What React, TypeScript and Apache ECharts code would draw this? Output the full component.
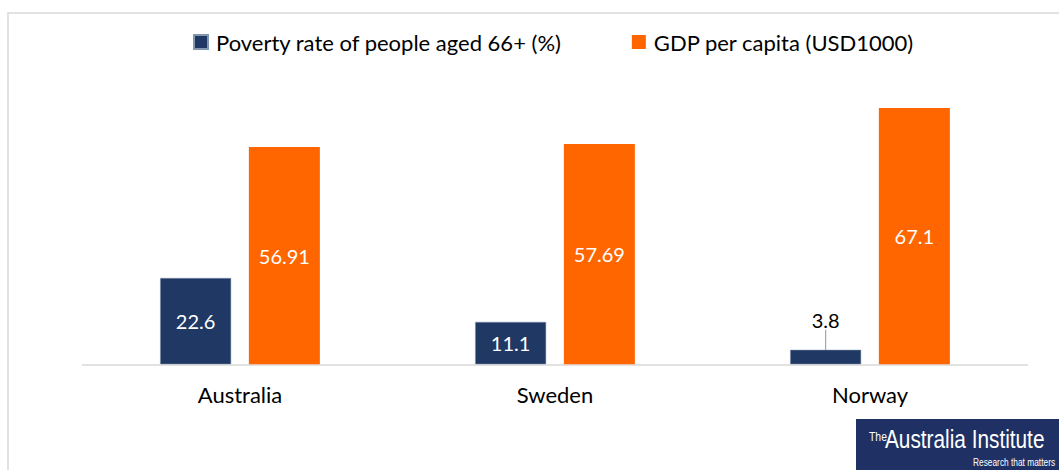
import React, { useEffect, useRef } from "react";
import * as echarts from "echarts";

const categories = ["Australia", "Sweden", "Norway"];
const povertyRate = [22.6, 11.1, 3.8];
const gdpPerCapita = [56.91, 57.69, 67.1];
const seriesNames = ["Poverty rate of people aged 66+ (%)", "GDP per capita (USD1000)"];

const FONT = "Lato, 'Open Sans', sans-serif";
const LOGO_FONT = "'Liberation Sans', Arial, sans-serif";

export default function App() {
  const ref = useRef<HTMLDivElement>(null);
  useEffect(() => {
    if (!ref.current) return;
    const chart = echarts.init(ref.current, undefined, { renderer: "svg" });
    chart.setOption({
      animation: false,
      backgroundColor: "#ffffff",
      textStyle: { fontFamily: FONT },
      legend: {
        top: 26,
        left: 188,
        itemWidth: 14,
        itemHeight: 14,
        itemGap: 70,
        icon: "rect",
        textStyle: { fontSize: 22, color: "#000", fontFamily: FONT, padding: [0, 0, 0, 3] },
        data: seriesNames,
      },
      grid: { left: 82.5, right: 31.5, top: 97, bottom: 105.7 },
      xAxis: {
        type: "category",
        data: categories,
        axisLine: { lineStyle: { color: "#d9d9d9", width: 1.5 } },
        axisTick: { show: false },
        axisLabel: { fontSize: 22, color: "#000", margin: 19, fontFamily: FONT },
      },
      yAxis: {
        type: "value",
        min: 0,
        max: 70,
        show: false,
        splitLine: { show: false },
      },
      series: [
        {
          name: seriesNames[0],
          type: "bar",
          data: povertyRate.map((v, i) =>
            i === 2
              ? { value: v, label: { position: "top", distance: 5, color: "#000" } }
              : { value: v }
          ),
          barWidth: 71,
          barGap: "25%",
          itemStyle: { color: "#203864", borderColor: "#8497b0", borderWidth: 0.5 },
          label: {
            show: true,
            position: "inside",
            color: "#fff",
            fontSize: 20,
            fontFamily: FONT,
          },
          labelLayout: (p: any) => (p.dataIndex === 2 ? { dy: -15 } : {}),
          labelLine: { show: true, lineStyle: { color: "#a6a6a6", width: 1.2 } },
        },
        {
          name: seriesNames[1],
          type: "bar",
          data: gdpPerCapita,
          barWidth: 71,
          itemStyle: { color: "#ff6600" },
          label: {
            show: true,
            position: "inside",
            color: "#fff",
            fontSize: 20,
            fontFamily: FONT,
          },
        },
      ],
      graphic: [
        {
          type: "rect",
          shape: { x: 8, y: 13, width: 1200, height: 600 },
          style: { fill: "none", stroke: "#d9d9d9", lineWidth: 1.5 },
          silent: true,
          z: -1,
        },
        {
          type: "rect",
          shape: { x: 856, y: 419, width: 210, height: 60 },
          style: { fill: "#1f3164" },
          z: 10,
        },
        {
          type: "text",
          x: 869,
          y: 430,
          scaleX: 0.8,
          style: { text: "The", fill: "#fff", fontSize: 13, fontFamily: LOGO_FONT },
          z: 11,
        },
        {
          type: "text",
          x: 885,
          y: 426,
          scaleX: 0.8,
          style: { text: "Australia Institute", fill: "#fff", fontSize: 26, fontWeight: 500, fontFamily: LOGO_FONT },
          z: 11,
        },
        {
          type: "text",
          x: 973,
          y: 457,
          scaleX: 0.76,
          style: { text: "Research that matters", fill: "#fff", fontSize: 11, fontFamily: LOGO_FONT },
          z: 11,
        },
      ],
    });
    return () => chart.dispose();
  }, []);
  return (
    <div
      ref={ref}
      style={{ position: "absolute", left: 0, top: 0, width: 1059, height: 470 }}
    />
  );
}
